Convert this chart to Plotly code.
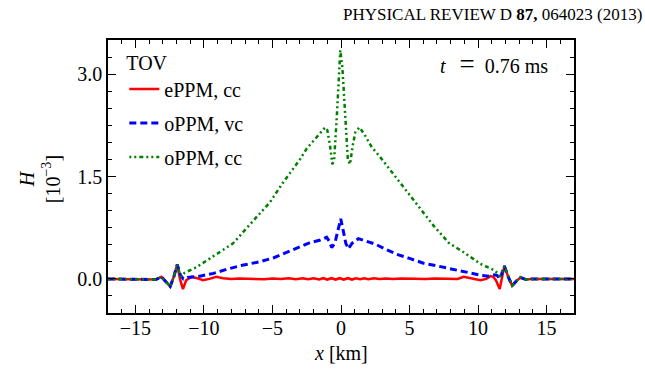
import plotly.graph_objects as go

# ---- data ----
x_red = [-17, -14, -13.5, -13.1, -12.8, -12.46, -12.2, -11.95, -11.75, -11.53, -11.3, -10.9, -10.5,
         -10.07, -9.6, -9.1, -8.6, -8.0, -7.4, -6.8, -6.2, -5.6, -5.0, -4.4, -3.8, -3.3, -2.8, -2.4,
         -2.0, -1.6, -1.3, -1.0, -0.7, -0.4, -0.1, 0.2, 0.5, 0.8, 1.1, 1.4, 1.7, 2.0, 2.4, 2.8, 3.3,
         3.8, 4.4, 5.0, 5.6, 6.2, 6.8, 7.4, 8.0, 8.5, 8.95, 9.5, 10.17, 10.6, 10.9, 11.1, 11.3, 11.58,
         11.75, 11.92, 12.2, 12.49, 12.8, 13.1, 13.5, 14, 17]
y_red = [0, 0, -0.01, 0.03, -0.03, -0.11, 0.03, 0.21, 0.0, -0.15, -0.02, 0.03, 0.01,
         -0.02, 0.0, 0.03, 0.01, 0.0, 0.005, 0.0, 0.005, -0.005, 0.005, 0.0, 0.01, -0.005, 0.01, -0.005,
         0.01, -0.01, 0.01, -0.01, 0.01, -0.01, 0.01, -0.01, 0.01, -0.01, 0.01, -0.005, 0.01, -0.005,
         0.01, 0.0, 0.005, 0.0, 0.005, 0.0, 0.005, 0.0, 0.005, 0.0, 0.0, 0.0, 0.03, 0.01, -0.02, 0.0,
         0.04, 0.03, -0.02, -0.15, 0.0, 0.19, 0.03, -0.10, -0.03, 0.02, -0.01, 0, 0]

x_blue = [-17, -14, -13.5, -13.1, -12.8, -12.46, -12.2, -11.95, -11.7, -11.5, -11.2, -10.3, -9.3,
          -8.36, -7.2, -5.93, -4.9, -3.97, -3.0, -2.27, -1.5, -1.05, -0.85, -0.68, -0.45, -0.2, -0.02,
          0.15, 0.35, 0.54, 0.8, 1.27, 1.8, 2.49, 3.2, 4.07, 5.0, 6.02, 7.0, 7.97, 8.8, 9.68, 10.3,
          10.78, 11.2, 11.4, 11.6, 11.92, 12.2, 12.49, 12.8, 13.1, 13.5, 14, 17]
y_blue = [0, 0, -0.01, 0.03, -0.03, -0.11, 0.03, 0.21, 0.05, 0.0, 0.02, 0.04, 0.08,
          0.14, 0.20, 0.25, 0.31, 0.39, 0.47, 0.53, 0.57, 0.61, 0.55, 0.46, 0.52, 0.75, 0.88,
          0.72, 0.52, 0.44, 0.52, 0.59, 0.56, 0.51, 0.44, 0.36, 0.30, 0.23, 0.19, 0.15, 0.11, 0.07, 0.05,
          0.04, 0.06, 0.05, 0.0, 0.19, 0.03, -0.10, -0.03, 0.02, -0.01, 0, 0]

x_green = [-17, -14, -13.5, -13.1, -12.8, -12.46, -12.2, -11.95, -11.7, -11.41, -10.55, -9.22, -7.88,
           -6.41, -5.19, -4.34, -3.61, -3.0, -2.5, -2.0, -1.5, -1.15, -1.0, -0.8, -0.63, -0.5, -0.3,
           -0.1, -0.05, 0.1, 0.3, 0.5, 0.66, 0.85, 1.05, 1.35, 1.7, 2.24, 2.8, 3.34, 3.95, 4.8, 5.78,
           6.75, 7.85, 8.95, 10.17, 11.14, 11.45, 11.6, 11.92, 12.2, 12.49, 12.8, 13.1, 13.5, 14, 17]
y_green = [0, 0, -0.01, 0.03, -0.03, -0.11, 0.03, 0.21, 0.03, 0.09, 0.17, 0.34, 0.52,
           0.85, 1.12, 1.38, 1.58, 1.75, 1.91, 2.02, 2.13, 2.22, 2.18, 1.95, 1.68, 1.75, 2.40,
           3.30, 3.35, 3.10, 2.40, 1.75, 1.68, 1.95, 2.15, 2.22, 2.12, 1.93, 1.80, 1.66, 1.50, 1.27, 1.02,
           0.78, 0.53, 0.39, 0.22, 0.13, 0.08, 0.03, 0.19, 0.05, -0.10, -0.03, 0.02, -0.01, 0, 0]

x_ticks = [-15, -10, -5, 0, 5, 10, 15]
y_ticks = [0.0, 1.5, 3.0]
y_tick_labels = ["0.0", "1.5", "3.0"]

FONT = "Liberation Serif"
fs = 20

fig = go.Figure()
fig.add_trace(go.Scatter(x=x_red, y=y_red, mode="lines", name="ePPM, cc", legendgroup="a",
                         line=dict(color="#ff0000", width=2.5)))
fig.add_trace(go.Scatter(x=x_blue, y=y_blue, mode="lines", name="oPPM, vc", legendgroup="b",
                         line=dict(color="#0000ff", width=3, dash="7px,4px")))
fig.add_trace(go.Scatter(x=x_green, y=y_green, mode="lines", name="oPPM, cc", legendgroup="c",
                         line=dict(color="#008000", width=2.5, dash="2px,3px,2px,3px,4px,3px")))

axis_common = dict(showgrid=False, zeroline=False, showline=True, linecolor="black", linewidth=1.5,
                   mirror="allticks", ticks="inside", ticklen=8, tickwidth=1.2, tickcolor="black",
                   tickfont=dict(family=FONT, size=fs, color="black"))

fig.update_xaxes(range=[-17, 17], tickvals=x_ticks, ticklabelstandoff=-4, **axis_common,
                 minor=dict(dtick=1, ticks="inside", ticklen=4, tickwidth=1, tickcolor="black"))
fig.update_yaxes(range=[-0.5, 3.5], tickvals=y_ticks, ticktext=y_tick_labels, **axis_common,
                 minor=dict(dtick=0.25, tick0=0, ticks="inside", ticklen=4, tickwidth=1, tickcolor="black"))

fig.add_annotation(text="<i>x</i> [km]", xref="paper", yref="paper", x=0.5, y=-0.146,
                   xanchor="center", yanchor="middle", showarrow=False,
                   font=dict(family=FONT, size=fs, color="black"))
fig.add_annotation(text="<i>H</i><br>[10<sup>−3</sup>]", xref="paper", yref="paper", x=-0.146, y=0.49,
                   xanchor="center", yanchor="middle", textangle=-90, showarrow=False,
                   font=dict(family=FONT, size=fs, color="black"))
fig.add_annotation(text="<i>t</i>\u2002\u2009<span style=\"font-size:27px\">=</span>\u20020.76 ms",
                   xref="paper", yref="paper",
                   x=0.948, y=0.975, xanchor="right", yanchor="top", showarrow=False,
                   font=dict(family=FONT, size=fs, color="black"))
fig.add_annotation(text="PHYSICAL REVIEW D <b>87,</b> 064023 (2013)", xref="paper", yref="paper",
                   x=1.151, y=1.05, xanchor="right", yanchor="bottom", showarrow=False,
                   font=dict(family="Liberation Serif", size=17, color="black"))

fig.update_layout(
    width=645, height=372,
    margin=dict(l=108, r=71, t=40, b=59),
    paper_bgcolor="white", plot_bgcolor="white",
    showlegend=True,
    legend=dict(x=0.035, y=0.987, xanchor="left", yanchor="top", bgcolor="rgba(0,0,0,0)",
                title=dict(text="TOV", font=dict(family=FONT, size=fs, color="black")),
                font=dict(family=FONT, size=fs, color="black"), tracegroupgap=5),
)

fig.write_html("out.html")
